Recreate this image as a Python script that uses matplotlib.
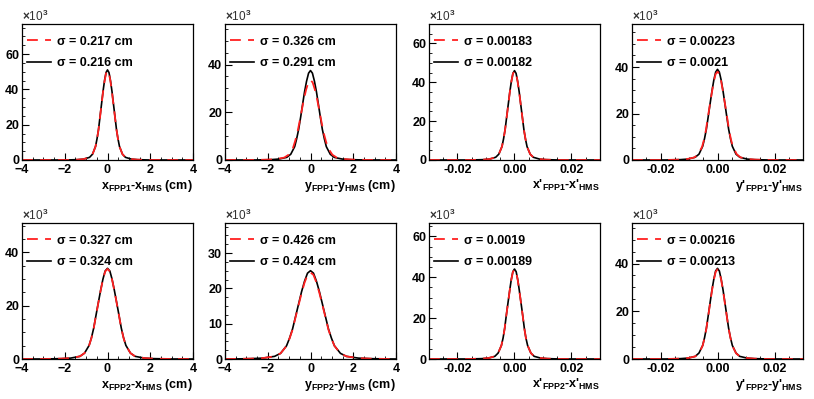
import numpy as np
import matplotlib
matplotlib.use("Agg")
import matplotlib.pyplot as plt
from matplotlib.ticker import MultipleLocator, AutoMinorLocator, FormatStrFormatter

# half profiles (x >= 0), counts in units of 10^3, mirrored about 0 when drawn
x_p1 = [0, .07, .14, .21, .28, .35, .42, .49, .56, .70, .84, 1.12, 1.40, 1.96, 4]
y_p1_blk = [51, 49.5, 44.9, 38.8, 31.6, 24.5, 17.3, 12.0, 7.7, 3.3, 1.5, 0.5, 0.2, 0, 0]
y_p1_red = [50.5, 49.0, 44.4, 38.4, 31.3, 24.2, 17.2, 11.9, 7.6, 3.3, 1.5, 0.5, 0.2, 0, 0]

x_p2_blk = [0, .09, .185, .28, .37, .46, .555, .65, .74, .925, 1.11, 1.48, 1.85, 2.59, 4]
y_p2_blk = [37.5, 36.4, 33.0, 28.5, 23.3, 18.0, 12.8, 8.8, 5.6, 2.4, 1.1, 0.4, 0.15, 0, 0]
x_p2_red = [0, .10, .205, .31, .41, .51, .615, .72, .82, 1.025, 1.23, 1.64, 2.05, 2.87, 4]
y_p2_red = [33.5, 32.5, 29.5, 25.5, 20.8, 16.1, 11.4, 7.9, 5.0, 2.2, 1.0, 0.34, 0.13, 0, 0]

x_p3 = [0, .00055, .0011, .00165, .0022, .00275, .0033, .00385, .0044, .0055, .0066, .0088, .011, .0154, .03]
y_p3_blk = [46, 44.6, 40.5, 35.0, 28.5, 22.1, 15.6, 10.8, 6.9, 3.0, 1.4, 0.46, 0.18, 0, 0]
y_p3_red = [45.8, 44.4, 40.3, 34.8, 28.4, 22.0, 15.6, 10.8, 6.9, 3.0, 1.4, 0.46, 0.18, 0, 0]

x_p4_blk = [0, .00065, .0013, .00195, .0026, .00325, .0039, .00455, .0052, .0065, .0078, .0104, .013, .0182, .03]
y_p4_blk = [39, 37.8, 34.3, 29.6, 24.2, 18.7, 13.3, 9.2, 5.9, 2.5, 1.2, 0.39, 0.16, 0, 0]
x_p4_red = [0, .00068, .00135, .002, .0027, .0034, .00405, .0047, .0054, .00675, .0081, .0108, .0135, .0189, .03]
y_p4_red = [38, 36.9, 33.4, 28.9, 23.6, 18.2, 12.9, 8.9, 5.7, 2.5, 1.1, 0.38, 0.15, 0, 0]

x_b1 = [0, .11, .215, .32, .43, .54, .645, .75, .86, 1.075, 1.29, 1.72, 2.15, 3.01, 4]
y_b1_blk = [34, 33.0, 29.9, 25.8, 21.1, 16.3, 11.6, 8.0, 5.1, 2.2, 1.0, 0.34, 0.14, 0, 0]
y_b1_red = [33.8, 32.8, 29.7, 25.7, 21.0, 16.2, 11.5, 7.9, 5.1, 2.2, 1.0, 0.34, 0.14, 0, 0]

x_b2 = [0, .14, .28, .42, .56, .70, .84, .98, 1.12, 1.4, 1.68, 2.24, 2.8, 3.5, 4]
y_b2_blk = [25, 24.3, 22.0, 19.0, 15.5, 12.0, 8.5, 5.9, 3.75, 1.6, 0.75, 0.25, 0.1, 0.02, 0]
y_b2_red = [24.5, 23.8, 21.6, 18.6, 15.2, 11.8, 8.3, 5.8, 3.7, 1.6, 0.74, 0.25, 0.1, 0.02, 0]

x_b3 = [0, .00058, .00115, .0017, .0023, .0029, .00345, .004, .0046, .00575, .0069, .0092, .0115, .0161, .03]
y_b3_blk = [44, 42.7, 38.7, 33.4, 27.3, 21.1, 15.0, 10.3, 6.6, 2.9, 1.3, 0.44, 0.18, 0, 0]
y_b3_red = [43.8, 42.5, 38.5, 33.3, 27.2, 21.0, 14.9, 10.3, 6.6, 2.9, 1.3, 0.44, 0.18, 0, 0]

x_b4 = [0, .00065, .0013, .00195, .0026, .00325, .0039, .00455, .0052, .0065, .0078, .0104, .013, .0182, .03]
y_b4_blk = [38, 36.9, 33.4, 28.9, 23.6, 18.2, 12.9, 8.9, 5.7, 2.5, 1.1, 0.38, 0.15, 0, 0]
y_b4_red = [37.6, 36.5, 33.1, 28.6, 23.3, 18.0, 12.8, 8.8, 5.6, 2.4, 1.1, 0.38, 0.15, 0, 0]

sig_red = ["0.217 cm", "0.326 cm", "0.00183", "0.00223",
           "0.327 cm", "0.426 cm", "0.0019", "0.00216"]
sig_blk = ["0.216 cm", "0.291 cm", "0.00182", "0.0021",
           "0.324 cm", "0.424 cm", "0.00189", "0.00213"]

xlabels = [r"x$_{\mathbf{FPP1}}$-x$_{\mathbf{HMS}}$ (cm)",
           r"y$_{\mathbf{FPP1}}$-y$_{\mathbf{HMS}}$ (cm)",
           r"x'$_{\mathbf{FPP1}}$-x'$_{\mathbf{HMS}}$",
           r"y'$_{\mathbf{FPP1}}$-y'$_{\mathbf{HMS}}$",
           r"x$_{\mathbf{FPP2}}$-x$_{\mathbf{HMS}}$ (cm)",
           r"y$_{\mathbf{FPP2}}$-y$_{\mathbf{HMS}}$ (cm)",
           r"x'$_{\mathbf{FPP2}}$-x'$_{\mathbf{HMS}}$",
           r"y'$_{\mathbf{FPP2}}$-y'$_{\mathbf{HMS}}$"]

ymax = [77, 57, 70, 58.5, 51, 38.5, 66.5, 57]
ystep = [20, 20, 20, 20, 20, 10, 20, 20]


def mirror(x, y):
    x = np.asarray(x)
    y = np.asarray(y)
    return np.r_[-x[::-1], x[1:]], np.r_[y[::-1], y[1:]]


def main():
    plt.rcParams['font.family'] = 'Liberation Sans'
    plt.rcParams['mathtext.fontset'] = 'custom'
    plt.rcParams['mathtext.rm'] = 'Liberation Sans:bold'
    plt.rcParams['mathtext.bf'] = 'Liberation Sans:bold'
    plt.rcParams['axes.unicode_minus'] = True

    curves = [
        (x_p1, y_p1_blk, x_p1, y_p1_red),
        (x_p2_blk, y_p2_blk, x_p2_red, y_p2_red),
        (x_p3, y_p3_blk, x_p3, y_p3_red),
        (x_p4_blk, y_p4_blk, x_p4_red, y_p4_red),
        (x_b1, y_b1_blk, x_b1, y_b1_red),
        (x_b2, y_b2_blk, x_b2, y_b2_red),
        (x_b3, y_b3_blk, x_b3, y_b3_red),
        (x_b4, y_b4_blk, x_b4, y_b4_red),
    ]

    W, H = 814, 399
    fig = plt.figure(figsize=(W / 100, H / 100), dpi=100)
    lefts = [22, 225, 429, 632]
    width = 171
    tops = [24, 223]
    height = 136

    for i in range(8):
        r, c = divmod(i, 4)
        ax = fig.add_axes([lefts[c] / W, 1 - (tops[r] + height) / H, width / W, height / H])
        xb, yb, xr, yr = curves[i]
        xb2, yb2 = mirror(xb, yb)
        xr2, yr2 = mirror(xr, yr)
        ax.plot(xb2, yb2, color="black", lw=1.2, label="σ = " + sig_blk[i])
        ax.plot(xr2, yr2, color="#ff2020", lw=1.3, dashes=(6, 4), label="σ = " + sig_red[i])

        cm = (c < 2)
        lim = 4 if cm else 0.03
        ax.set_xlim(-lim, lim)
        ax.set_ylim(0, ymax[i])
        if cm:
            ax.xaxis.set_major_locator(MultipleLocator(2))
            ax.xaxis.set_minor_locator(AutoMinorLocator(4))
        else:
            ax.xaxis.set_major_locator(MultipleLocator(0.02))
            ax.xaxis.set_minor_locator(AutoMinorLocator(4))
            ax.xaxis.set_major_formatter(FormatStrFormatter('%.2f'))
        ax.yaxis.set_major_locator(MultipleLocator(ystep[i]))
        ax.yaxis.set_minor_locator(AutoMinorLocator(4))
        ax.tick_params(which='both', direction='in', top=False, right=False,
                       labelsize=9)
        ax.tick_params(axis='x', pad=3)
        ax.tick_params(axis='y', pad=2)
        ax.tick_params(which='major', length=5, width=0.8)
        ax.tick_params(which='minor', length=2.5, width=0.6)
        for lab in ax.get_xticklabels() + ax.get_yticklabels():
            lab.set_fontweight('bold')
        for sp in ax.spines.values():
            sp.set_linewidth(0.9)

        ax.set_xlabel(xlabels[i], fontsize=9, fontweight='bold', ha='right', x=1.0, labelpad=1)
        ax.text(0.0, 1.0, r"$\times$10$^{3}$", transform=ax.transAxes,
                fontsize=8.5, color="#333333", ha='left', va='bottom')

        h, l = ax.get_legend_handles_labels()
        ax.legend(h[::-1], l[::-1], loc='upper left', bbox_to_anchor=(0.03, 0.915),
                  frameon=False, handlelength=1.9, handletextpad=0.45,
                  labelspacing=0.78, borderaxespad=0, borderpad=0,
                  prop={'weight': 'bold', 'size': 9})

    fig.savefig("out.png", dpi=100)


if __name__ == "__main__":
    main()
